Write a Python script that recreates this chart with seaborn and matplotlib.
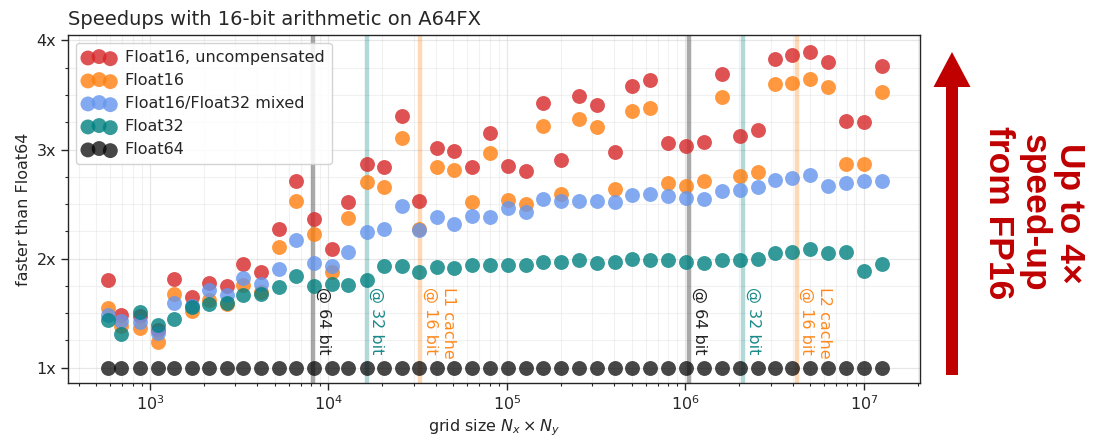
import numpy as np
import pandas as pd
import matplotlib
matplotlib.use("Agg")
import matplotlib.pyplot as plt
import seaborn as sns
from matplotlib.patches import FancyArrow
from matplotlib.transforms import IdentityTransform
from matplotlib.ticker import FixedLocator, MultipleLocator, LogLocator, NullFormatter

# ---------------- data ----------------
grid_size = [584, 688, 879, 1113, 1368, 1719, 2149, 2690, 3333, 4186, 5281, 6598,
             8326, 10421, 12910, 16368, 20540, 25710, 32270, 40400, 50680, 63650,
             80300, 100900, 127300, 159700, 200700, 254100, 320500, 402700, 503500,
             632600, 795000, 1006500, 1274000, 1608000, 2020000, 2538000, 3172000,
             3966000, 4983000, 6310000, 7927000, 10000000, 12570000]

float16_uncomp = [1.80, 1.485, 1.476, 1.35, 1.81, 1.65, 1.78, 1.75, 1.95, 1.88, 2.27, 2.71,
                  2.36, 2.09, 2.52, 2.87, 2.84, 3.31, 2.53, 3.01, 2.99, 2.84, 3.15, 2.85,
                  2.80, 3.43, 2.90, 3.49, 3.41, 2.98, 3.58, 3.64, 3.06, 3.03, 3.07, 3.69,
                  3.12, 3.18, 3.83, 3.87, 3.89, 3.80, 3.26, 3.25, 3.77]

float16 = [1.546, 1.378, 1.366, 1.24, 1.68, 1.52, 1.62, 1.58, 1.76, 1.69, 2.11, 2.53,
           2.23, 1.88, 2.375, 2.70, 2.66, 3.11, 2.27, 2.84, 2.81, 2.52, 2.97, 2.54,
           2.50, 3.22, 2.59, 3.28, 3.21, 2.635, 3.35, 3.38, 2.69, 2.665, 2.71, 3.48,
           2.76, 2.79, 3.60, 3.61, 3.65, 3.57, 2.87, 2.87, 3.53]

mixed = [1.485, 1.424, 1.42, 1.32, 1.59, 1.57, 1.71, 1.67, 1.82, 1.77, 1.905, 2.17,
         1.96, 1.93, 2.06, 2.24, 2.27, 2.485, 2.26, 2.38, 2.32, 2.39, 2.38, 2.46,
         2.43, 2.55, 2.53, 2.53, 2.53, 2.52, 2.58, 2.59, 2.57, 2.56, 2.55, 2.62,
         2.63, 2.66, 2.72, 2.74, 2.77, 2.67, 2.69, 2.71, 2.71]

float32 = [1.433, 1.311, 1.51, 1.39, 1.45, 1.56, 1.58, 1.59, 1.67, 1.68, 1.74, 1.84,
           1.75, 1.77, 1.76, 1.80, 1.93, 1.93, 1.88, 1.92, 1.91, 1.94, 1.94, 1.94,
           1.94, 1.97, 1.97, 1.99, 1.96, 1.97, 2.00, 1.99, 1.99, 1.97, 1.96, 1.99,
           1.99, 2.00, 2.05, 2.06, 2.09, 2.05, 2.06, 1.89, 1.95]

float64 = [1.0, 1.0, 1.0, 1.0, 1.0, 1.0, 1.0, 1.0, 1.0, 1.0, 1.0, 1.0, 1.0, 1.0, 1.0,
           1.0, 1.0, 1.0, 1.0, 1.0, 1.0, 1.0, 1.0, 1.0, 1.0, 1.0, 1.0, 1.0, 1.0, 1.0,
           1.0, 1.0, 1.0, 1.0, 1.0, 1.0, 1.0, 1.0, 1.0, 1.0, 1.0, 1.0, 1.0, 1.0, 1.0]

series_names = ["Float16, uncompensated", "Float16", "Float16/Float32 mixed", "Float32", "Float64"]
series_values = [float16_uncomp, float16, mixed, float32, float64]
series_colors = ["#d62728", "#ff7f0e", "#6495ED", "#008080", "#000000"]
series_alpha = [0.8, 0.8, 0.8, 0.8, 0.72]

cache_lines = [8192, 16384, 32768, 1048576, 2097152, 4194304]
cache_labels = ["@ 64 bit", "@ 32 bit", "L1 cache\n@ 16 bit", "@ 64 bit", "@ 32 bit", "L2 cache\n@ 16 bit"]
cache_colors = ["#222222", "#1a8a8a", "#ff8a1e", "#222222", "#1a8a8a", "#ff8a1e"]
cache_line_colors = ["#707070", "#008080", "#ff7f0e", "#707070", "#008080", "#ff7f0e"]
cache_line_alpha = [0.6, 0.3, 0.3, 0.6, 0.3, 0.3]

ytick_vals = [1, 2, 3, 4]
ytick_labels = ["1x", "2x", "3x", "4x"]

# ---------------- style ----------------
sns.set_theme(style="ticks")
plt.rcParams['font.family'] = ['DejaVu Sans']
plt.rcParams['font.size'] = 11.5
plt.rcParams['mathtext.fontset'] = 'dejavusans'

fig = plt.figure(figsize=(11, 4.42), dpi=100)
ax = fig.add_axes([0.0618, 0.1335, 0.7745, 0.7873])

for xv, c, a in zip(cache_lines, cache_line_colors, cache_line_alpha):
    ax.axvline(xv, color=c, alpha=a, lw=3.2, zorder=1.5)

for name, vals, col, al in zip(series_names, series_values, series_colors, series_alpha):
    sns.scatterplot(x=grid_size, y=vals, color=col, s=115, alpha=al, linewidth=0,
                    label=name, ax=ax, zorder=3)

for xv, lab, col in zip(cache_lines, cache_labels, cache_colors):
    ax.text(xv * 1.035, 1.74, lab, rotation=270, ha='left', va='top', color=col,
            fontsize=11.5, zorder=4)

ax.set_xscale('log')
ax.set_xlim(347, 2.06e7)
ax.set_ylim(0.86, 4.05)
ax.set_yticks(ytick_vals)
ax.set_yticklabels(ytick_labels)
ax.yaxis.set_minor_locator(MultipleLocator(0.25))
ax.xaxis.set_minor_locator(LogLocator(base=10, subs=np.arange(2, 10), numticks=30))
ax.xaxis.set_minor_formatter(NullFormatter())
ax.tick_params(axis='both', which='major', labelsize=11.5, length=5, width=1, direction='out', color='0.15')
ax.tick_params(axis='both', which='minor', length=2.5, width=0.8, direction='out', color='0.15')

ax.grid(which='major', color='0.82', alpha=0.5, lw=0.9)
ax.grid(which='minor', color='0.87', alpha=0.4, lw=0.8)
ax.set_axisbelow(True)
for sp in ax.spines.values():
    sp.set_color('0.15')
    sp.set_linewidth(1.0)

ax.set_title("Speedups with 16-bit arithmetic on A64FX", loc='left', fontsize=14, pad=7)
ax.set_ylabel("faster than Float64", fontsize=11.5)
ax.set_xlabel("grid size $N_x \\times N_y$", fontsize=11.5, labelpad=3)

leg = ax.legend(loc='upper left', scatterpoints=3, fontsize=11.5, frameon=True,
                fancybox=True, framealpha=0.85, edgecolor='0.8', handletextpad=0.6,
                borderpad=0.45, labelspacing=0.5)

# right-hand annotation
fig.add_artist(FancyArrow(952, 442 - 375, 0, 323, width=12, head_width=37, head_length=35,
                          length_includes_head=True, color='#C00000', lw=0,
                          transform=IdentityTransform()))
fig.text(1034 / 1100, 1 - 213 / 442, "Up to 4×\nspeed-up\nfrom FP16", rotation=270,
         ha='center', va='center', multialignment='center', fontsize=25.5,
         fontweight='bold', color='#C00000', family=['Liberation Sans', 'DejaVu Sans'],
         linespacing=1.1)

fig.savefig("out.png", dpi=100)
